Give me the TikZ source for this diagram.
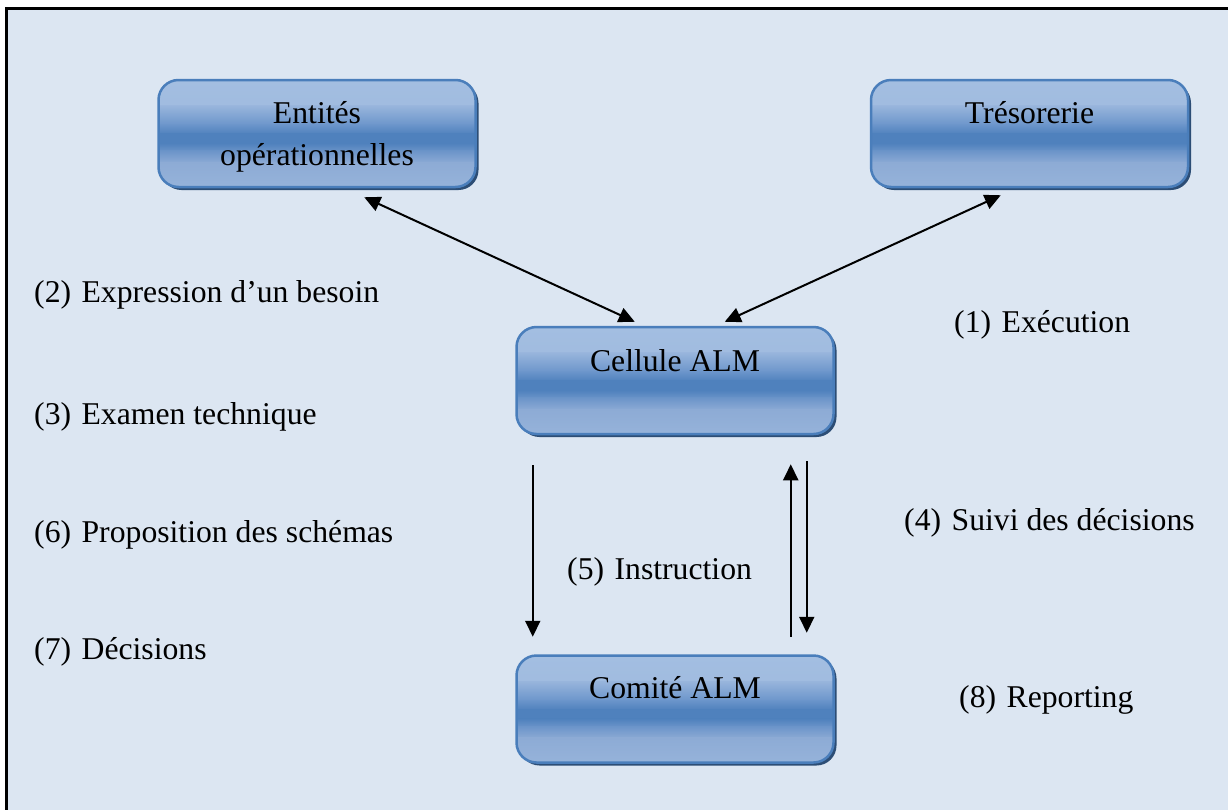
\documentclass[tikz,border=0pt]{standalone}
\usepackage{fontspec}
\setmainfont{Liberation Serif}
\usetikzlibrary{arrows.meta,calc,shadows}

\definecolor{panel}{HTML}{DCE6F2}
\definecolor{geltop}{HTML}{A3BEE1}
\definecolor{gelhigh}{HTML}{98B5DC}
\definecolor{gelmidup}{HTML}{6A94CA}
\definecolor{geldeep}{HTML}{4F81BD}
\definecolor{gelmidlow}{HTML}{6B94C9}
\definecolor{gellow}{HTML}{8DABD5}
\definecolor{gelbot}{HTML}{96B3DA}
\definecolor{gelline}{HTML}{4A7EBB}
\definecolor{gelshadow}{HTML}{2C4D75}

\newcommand{\steplabel}[2]{(#1)\hspace{0.33em}#2}

\tikzset{
  % glossy fill built from horizontal bands: light top, dark band just
  % below the middle, light bottom
  gelbox/.style={draw=gelline, fill=gelhigh, line width=2.5pt, rounded corners=20pt,
    minimum width=317pt, minimum height=107pt, inner sep=0pt,
    drop shadow={shadow xshift=3pt, shadow yshift=-3pt, fill=gelshadow, opacity=1},
    path picture={
      \foreach \from/\to/\ctop/\cbot in {0/0.24/geltop/gelhigh,
          0.24/0.42/gelhigh/gelmidup, 0.42/0.50/gelmidup/geldeep,
          0.50/0.59/geldeep/geldeep, 0.59/0.66/geldeep/gelmidlow,
          0.66/0.77/gelmidlow/gellow, 0.77/1/gellow/gelbot}
        \shade[sharp corners, top color=\ctop, bottom color=\cbot]
          ($(path picture bounding box.north west)!\from!(path picture bounding box.south west)+(-2,0)$)
          rectangle
          ($(path picture bounding box.north east)!\to!(path picture bounding box.south east)+(2,1)$);
    }},
  boxtext/.style={font=\fontsize{31.7}{42}\selectfont, inner sep=0pt,
    anchor=base, align=center},
  flowtext/.style={font=\fontsize{31.7}{42}\selectfont, inner sep=0pt,
    anchor=base west},
  flow/.style={line width=2pt, -{Triangle[length=16pt,width=15pt]}},
  bothflow/.style={line width=2pt, {Triangle[length=16pt,width=15pt]}-{Triangle[length=16pt,width=15pt]}}
}

\begin{document}
\begin{tikzpicture}[x=1pt, y=-1pt]
  \useasboundingbox (0,0) rectangle (1228,809);
  \fill[white] (0,0) rectangle (1228,809);
  % framed panel
  \draw[line width=3pt, fill=panel] (6.5,8.5) rectangle (1245,830);

  % boxes
  \node[gelbox] (ent) at (317,133.5) {};
  \node[gelbox] (tre) at (1029.5,133.5) {};
  \node[gelbox] (cel) at (675,380.5) {};
  \node[gelbox] (com) at (675,709) {};

  % box captions (a two-line caption is anchored at its last baseline)
  \node[boxtext] (entlbl) at ($(ent.north)+(0,87)$) {Entités\\opérationnelles};
  \node[boxtext] (trelbl) at ($(tre.north)+(0,45)$) {Trésorerie};
  \node[boxtext] (cellbl) at ($(cel.north)+(0,45.5)$) {Cellule ALM};
  \node[boxtext] (comlbl) at ($(com.north)+(0,44.5)$) {Comité ALM};

  % connector end points
  \coordinate (entout) at ($(ent.south east)+(-112.5,9)$);
  \coordinate (celinl) at ($(cel.north west)+(119.5,-4)$);
  \coordinate (treout) at ($(tre.south west)+(131,7)$);
  \coordinate (celinr) at ($(cel.north west)+(209.5,-4)$);
  \coordinate (downa) at ($(cel.south west)+(17.5,30)$);
  \coordinate (downb) at ($(com.north west)+(17.5,-17.5)$);
  \coordinate (upa) at ($(com.north west)+(275.5,-17.5)$);
  \coordinate (upb) at ($(cel.south west)+(275.5,29)$);
  \coordinate (backa) at ($(cel.south west)+(291.5,26)$);
  \coordinate (backb) at ($(com.north west)+(291.5,-21.5)$);

  % connectors
  \draw[bothflow] (entout) -- (celinl);
  \draw[bothflow] (treout) -- (celinr);
  \draw[flow] (downa) -- (downb);
  \draw[flow] (upa) -- (upb);
  \draw[flow] (backa) -- (backb);

  % numbered steps
  \node[flowtext] (s2) at (34,302) {\steplabel{2}{Expression d’un besoin}};
  \node[flowtext] (s3) at (34,424) {\steplabel{3}{Examen technique}};
  \node[flowtext] (s6) at (34,542) {\steplabel{6}{Proposition des schémas}};
  \node[flowtext] (s7) at (34,659) {\steplabel{7}{Décisions}};
  \node[flowtext] (s1) at (954,332) {\steplabel{1}{Exécution}};
  \node[flowtext] (s4) at (904,530) {\steplabel{4}{Suivi des décisions}};
  \node[flowtext] (s8) at (959,707) {\steplabel{8}{Reporting}};
  \node[flowtext] (s5) at (567,579) {\steplabel{5}{Instruction}};
\end{tikzpicture}
\end{document}
